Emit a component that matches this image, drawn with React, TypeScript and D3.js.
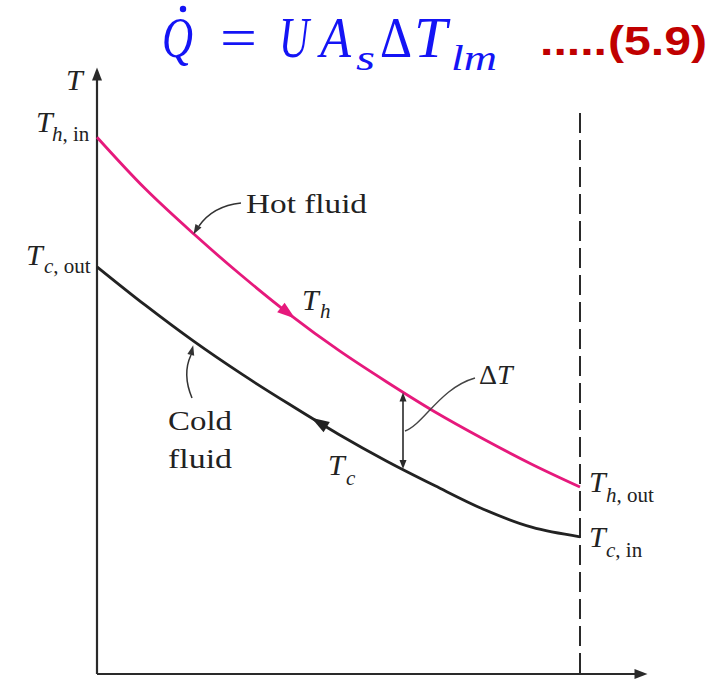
import React from "react";
import * as d3 from "d3";

// Position along the heat exchanger (arbitrary length units, inlet of hot fluid = 0)
const positions = [0, 1, 2, 3, 4, 5, 6, 7, 8, 9, 10];
// Hot fluid temperature (arbitrary units)
const hotTemps = [88.3, 79.7, 72.2, 65.2, 58.7, 52.8, 47.5, 42.5, 38.0, 33.8, 30.0];
// Cold fluid temperature (arbitrary units)
const coldTemps = [66.7, 60.3, 54.3, 48.8, 43.7, 38.8, 34.3, 30.2, 26.3, 23.3, 21.7];

const W = 725;
const H = 679;
const HOT = "#e6197c";
const COLD = "#222222";
const INK = "#2a2a2a";
const SERIF = "'Liberation Serif', 'Times New Roman', serif";

function arrowHead(x: number, y: number, ang: number, len: number, hw: number) {
  const dx = Math.cos(ang), dy = Math.sin(ang);
  const nx = -dy, ny = dx;
  const tx = x + dx * len / 2, ty = y + dy * len / 2;
  const bx = x - dx * len / 2, by = y - dy * len / 2;
  return `${tx},${ty} ${bx + nx * hw},${by + ny * hw} ${bx - nx * hw},${by - ny * hw}`;
}

export default function App() {
  const x = d3.scaleLinear().domain([0, 10]).range([97, 580]);
  const y = d3.scaleLinear().domain([0, 100]).range([667, 67]);

  const hotData = positions.map((p, i) => [p, hotTemps[i]] as [number, number]);
  const coldData = positions.map((p, i) => [p, coldTemps[i]] as [number, number]);
  const line = d3
    .line<[number, number]>()
    .x((d) => x(d[0]))
    .y((d) => y(d[1]))
    .curve(d3.curveCatmullRom.alpha(0.5));

  const hotAt = d3.scaleLinear().domain(positions).range(hotTemps);
  const coldAt = d3.scaleLinear().domain(positions).range(coldTemps);
  const angleOn = (f: (p: number) => number, p: number) => {
    const a = [x(p - 0.2), y(f(p - 0.2))];
    const b = [x(p + 0.2), y(f(p + 0.2))];
    return Math.atan2(b[1] - a[1], b[0] - a[0]);
  };

  // flow arrows
  const hp = x.invert(288);
  const hotArrow = arrowHead(x(hp), y(hotAt(hp)), angleOn(hotAt, hp), 18, 6);
  const cp = x.invert(319);
  const coldArrow = arrowHead(x(cp), y(coldAt(cp)), angleOn(coldAt, cp) + Math.PI, 18, 6);

  // delta T marker
  const dp = x.invert(403);
  const dTop = y(hotAt(dp));
  const dBot = y(coldAt(dp));

  const axisY = 674;
  const dashTop = 113;

  return (
    <svg width={W} height={H} style={{ position: "absolute", left: 0, top: 0, background: "#fff" }}>
      <rect x={0} y={0} width={W} height={H} fill="#fff" />

      {/* Title equation */}
      <g fill="#1414f5" fontFamily={SERIF}>
        <text x={162} y={57} fontSize={56} fontStyle="italic" textLength={31} lengthAdjust="spacingAndGlyphs">Q</text>
        <circle cx={183} cy={9} r={3.2} />
        <text x={220} y={57} fontSize={56} textLength={37} lengthAdjust="spacingAndGlyphs">=</text>
        <text x={279} y={57} fontSize={56} fontStyle="italic" textLength={30} lengthAdjust="spacingAndGlyphs">U</text>
        <text x={320} y={57} fontSize={56} fontStyle="italic" textLength={31} lengthAdjust="spacingAndGlyphs">A</text>
        <text x={356} y={70} fontSize={36} fontStyle="italic" textLength={19} lengthAdjust="spacingAndGlyphs">s</text>
        <text x={380} y={57} fontSize={56} textLength={32} lengthAdjust="spacingAndGlyphs">Δ</text>
        <text x={414} y={57} fontSize={56} fontStyle="italic" textLength={33} lengthAdjust="spacingAndGlyphs">T</text>
        <text x={451} y={70} fontSize={36} fontStyle="italic" textLength={46} lengthAdjust="spacingAndGlyphs">lm</text>
      </g>
      <g fill="#c00000" fontFamily="'Liberation Sans', Arial, sans-serif" fontWeight="bold">
        <text x={540} y={55} fontSize={40} textLength={67} lengthAdjust="spacingAndGlyphs">.....</text>
        <text x={608} y={55} fontSize={40} textLength={99} lengthAdjust="spacingAndGlyphs">(5.9)</text>
      </g>

      {/* Axes */}
      <g stroke={INK} strokeWidth={2.2} fill="none">
        <line x1={97} y1={axisY} x2={97} y2={78} />
        <line x1={97} y1={axisY} x2={638} y2={axisY} />
      </g>
      <polygon points={arrowHead(97, 74, -Math.PI / 2, 13, 5)} fill={INK} />
      <polygon points={arrowHead(641, axisY, 0, 13, 5)} fill={INK} />

      {/* Dashed end of exchanger */}
      <line x1={x(10)} y1={dashTop} x2={x(10)} y2={axisY} stroke={INK} strokeWidth={2} strokeDasharray="20,7" />

      {/* Curves */}
      <path d={line(hotData) || ""} fill="none" stroke={HOT} strokeWidth={2.8} />
      <path d={line(coldData) || ""} fill="none" stroke={COLD} strokeWidth={2.8} />
      <polygon points={hotArrow} fill={HOT} />
      <polygon points={coldArrow} fill={COLD} />

      {/* Delta T */}
      <line x1={403} y1={dTop + 4} x2={403} y2={dBot - 4} stroke={INK} strokeWidth={1.6} />
      <polygon points={arrowHead(403, dTop + 5, -Math.PI / 2, 9, 3.5)} fill={INK} />
      <polygon points={arrowHead(403, dBot - 5, Math.PI / 2, 9, 3.5)} fill={INK} />
      <path d="M405,431 C424,424 440,388 475,378" fill="none" stroke="#444" strokeWidth={1.4} />

      {/* Leaders */}
      <path d="M241,203 Q213,206 199,226" fill="none" stroke="#333" strokeWidth={1.5} />
      <polygon points={arrowHead(196, 230, Math.atan2(14, -8), 10, 3.5)} fill="#333" />
      <path d="M192,398 Q182,374 191,355" fill="none" stroke="#333" strokeWidth={1.5} />
      <polygon points={arrowHead(192, 350, Math.atan2(-12, 3), 10, 3.5)} fill="#333" />

      {/* Labels */}
      <g fill="#222" fontFamily={SERIF}>
        <text x={66} y={90} fontSize={30} fontStyle="italic">T</text>

        <text x={36} y={132} fontSize={30} fontStyle="italic">T</text>
        <text x={52} y={141} fontSize={21}>
          <tspan fontStyle="italic">h</tspan>, in
        </text>

        <text x={26} y={265} fontSize={30} fontStyle="italic">T</text>
        <text x={44} y={273} fontSize={21}>
          <tspan fontStyle="italic">c</tspan>, out
        </text>

        <text x={589} y={492} fontSize={30} fontStyle="italic">T</text>
        <text x={606} y={502} fontSize={21}>
          <tspan fontStyle="italic">h</tspan>, out
        </text>

        <text x={589} y={547} fontSize={30} fontStyle="italic">T</text>
        <text x={606} y={557} fontSize={21}>
          <tspan fontStyle="italic">c</tspan>, in
        </text>

        <text x={246} y={213} fontSize={28} textLength={121} lengthAdjust="spacingAndGlyphs">Hot fluid</text>

        <text x={302} y={310} fontSize={30} fontStyle="italic">T</text>
        <text x={320} y={318} fontSize={21} fontStyle="italic">h</text>

        <text x={168} y={430} fontSize={28} textLength={64} lengthAdjust="spacingAndGlyphs">Cold</text>
        <text x={168} y={468} fontSize={28} textLength={64} lengthAdjust="spacingAndGlyphs">fluid</text>

        <text x={328} y={475} fontSize={30} fontStyle="italic">T</text>
        <text x={346} y={485} fontSize={21} fontStyle="italic">c</text>

        <text x={479} y={384} fontSize={28}>Δ<tspan fontStyle="italic">T</tspan></text>
      </g>
    </svg>
  );
}
